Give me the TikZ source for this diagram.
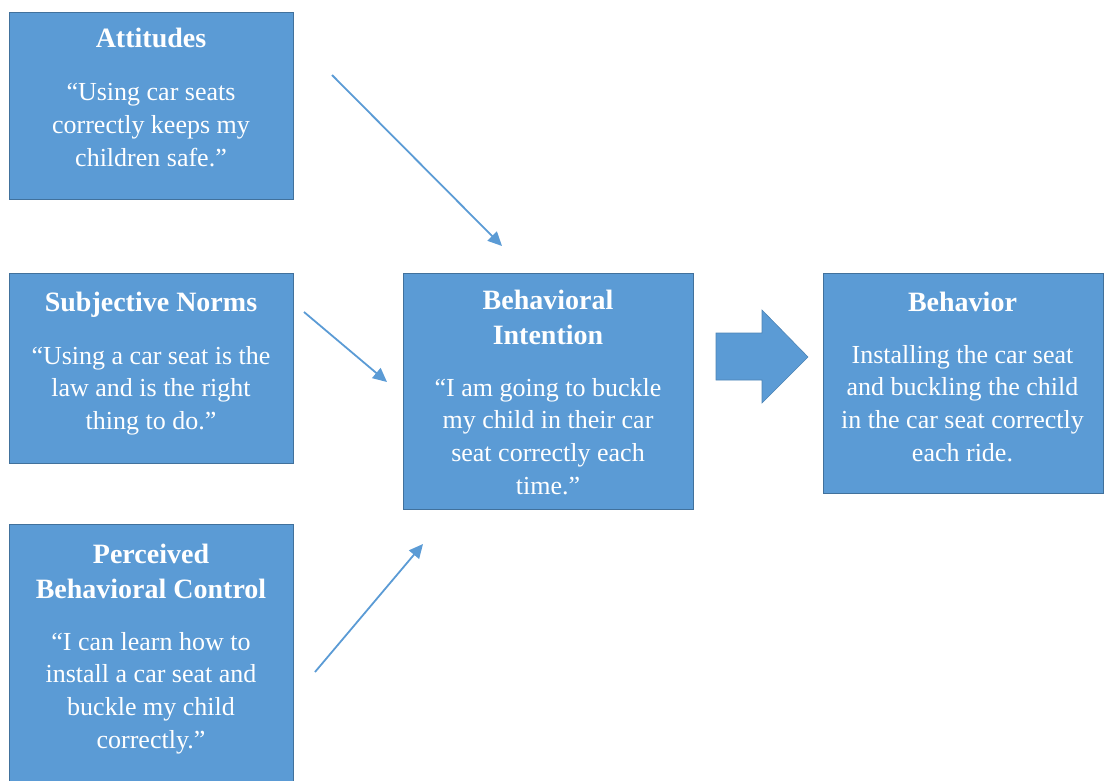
\documentclass[tikz,border=0pt]{standalone}
\usepackage{fontspec}
\setmainfont{Liberation Serif}
\usetikzlibrary{arrows.meta}
\definecolor{boxfill}{HTML}{5B9BD5}
\definecolor{boxline}{HTML}{41719C}
\tikzset{
  boxnode/.style={draw=boxline, fill=boxfill, line width=1.2pt, rectangle, inner sep=0pt, anchor=north west},
  titletext/.style={text=white, anchor=base, inner sep=0pt, align=flush center, text width=280pt, font=\fontsize{28}{35}\selectfont\bfseries},
  bodytext/.style={text=white, anchor=base, inner sep=0pt, align=flush center, text width=280pt, font=\fontsize{26}{32.7}\selectfont},
  flowarrow/.style={draw=boxfill, line width=1.8pt, -{Triangle[length=14pt,width=13pt]}},
  blockarrow/.style={fill=boxfill, draw=boxfill!85!black, line width=0.6pt}
}
\begin{document}
\begin{tikzpicture}[x=1pt,y=-1pt]
\useasboundingbox (0,0) rectangle (1106,781);
\clip (0,0) rectangle (1106,781);
% boxes
\node[boxnode, minimum width=284pt, minimum height=187pt] (att) at (9,12) {};
\node[boxnode, minimum width=284pt, minimum height=190pt] (sn) at (9,273) {};
\node[boxnode, minimum width=284pt, minimum height=270pt] (pbc) at (9,524) {};
\node[boxnode, minimum width=290pt, minimum height=236pt] (bi) at (403,273) {};
\node[boxnode, minimum width=280pt, minimum height=220pt] (beh) at (823,273) {};
% texts
\node[titletext] (attT) at (151,48) {Attitudes};
\node[bodytext] (attB) at (151,101) {“Using car seats\\correctly keeps my\\children safe.”};
\node[titletext] (snT) at (151,311) {Subjective Norms};
\node[bodytext] (snB) at (151,364) {“Using a car seat is the\\law and is the right\\thing to do.”};
\node[titletext] (pbcT) at (151,563) {Perceived\\Behavioral Control};
\node[bodytext] (pbcB) at (151,650) {“I can learn how to\\install a car seat and\\buckle my child\\correctly.”};
\node[titletext] (biT) at (548,309) {Behavioral\\Intention};
\node[bodytext] (biB) at (548,396) {“I am going to buckle\\my child in their car\\seat correctly each\\time.”};
\node[titletext] (behT) at (962.5,311) {Behavior};
\node[bodytext] (behB) at (962.5,363) {Installing the car seat\\and buckling the child\\in the car seat correctly\\each ride.};
% arrows
\coordinate (a1s) at (332,75);
\coordinate (a1e) at (502,246);
\coordinate (a2s) at (304,312);
\coordinate (a2e) at (387,382);
\coordinate (a3s) at (315,672);
\coordinate (a3e) at (423,544);
\draw[flowarrow] (a1s) -- (a1e);
\draw[flowarrow] (a2s) -- (a2e);
\draw[flowarrow] (a3s) -- (a3e);
% block arrow
\draw[blockarrow] (716,333) -- (762,333) -- (762,310) -- (808,357) -- (762,403) -- (762,380) -- (716,380) -- cycle;
\end{tikzpicture}
\end{document}
